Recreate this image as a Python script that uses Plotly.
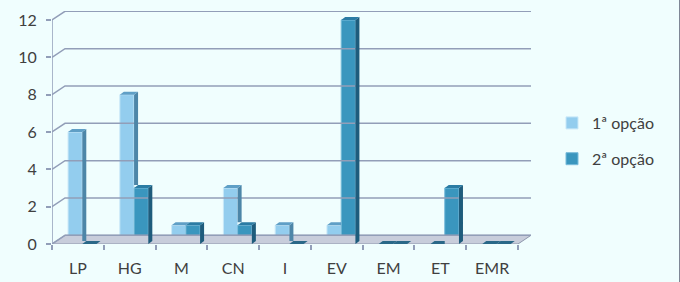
import plotly.graph_objects as go

# ---- data ----
categories = ["LP", "HG", "M", "CN", "I", "EV", "EM", "ET", "EMR"]
opcao1 = [6, 8, 1, 3, 1, 1, 0, 0, 0]
opcao2 = [0, 3, 1, 1, 0, 12, 0, 3, 0]
y_ticks = [0, 2, 4, 6, 8, 10, 12]
series_names = ["1ª opção", "2ª opção"]

# ---- geometry / style ----
PX_X = 51.78          # px per category
PX_Y = 18.667         # px per unit
W = 0.275
OFFS = [-0.19, 0.085]
DX, DY = 4 / PX_X, 3 / PX_Y          # bar depth
BDX, BDY = 13 / PX_X, 8.7 / PX_Y     # back wall offset
XMIN, XMAX = -0.5, len(categories) - 0.5
YMAX = 12

BG = "#F0FEFE"
GRID = "#929EB8"
TXT = "#404040"
FRONT = ["#93CDEE", "#3A96BE"]
EDGE = ["#C9E8F8", "#79BCDB"]
SIDE = ["#4D86A8", "#1E5C7C"]
CAP = ["#5F9FC6", "#2B7CA4"]
FONT = "Lato"

fig = go.Figure()

# floor
fx = [XMIN, XMAX, XMAX + BDX, XMIN + BDX, XMIN]
fy = [0, 0, BDY, BDY, 0]
fig.add_trace(go.Scatter(x=fx, y=fy, fill="toself", fillcolor="#C8CDDB",
                         mode="lines", line=dict(color="#8E96AC", width=1),
                         hoverinfo="skip", showlegend=False, cliponaxis=False))

# back-wall gridlines and connectors
gx, gy = [], []
for v in y_ticks:
    gx += [XMIN, XMIN + BDX, XMAX + BDX, None]
    gy += [v, v + BDY, v + BDY, None]
gx += [XMIN, XMIN, None]
gy += [0, YMAX, None]
fig.add_trace(go.Scatter(x=gx, y=gy, mode="lines",
                         line=dict(color=GRID, width=1.5),
                         hoverinfo="skip", showlegend=False, cliponaxis=False))

series = [opcao1, opcao2]
xs = list(range(len(categories)))

# front faces as bars
for s, vals in enumerate(series):
    fig.add_trace(go.Bar(x=xs, y=vals, base=0, width=W, offset=OFFS[s],
                         name=series_names[s], legendgroup=str(s),
                         marker=dict(color=FRONT[s], line=dict(color=EDGE[s], width=1))))

# sides and caps
for s, vals in enumerate(series):
    other = series[1] if s == 0 else None
    sx, sy, cx, cy, zx, zy = [], [], [], [], [], []
    for i, v in enumerate(vals):
        xl = i + OFFS[s]
        xr = xl + W
        v2 = other[i] if other is not None else 0
        bottom = v2 if other is not None else 0
        if v > 0 and v > bottom:
            sx += [xr, xr + DX, xr + DX, xr, xr, None]
            sy += [bottom + (DY if other is not None else 0), bottom + DY, v + DY, v, bottom, None]
        right = xr if (other is not None and v2 > v) else xr + DX
        px = [xl, xr, right, xl + DX, xl, None]
        py = [v, v, v + DY, v + DY, v, None]
        if v > 0:
            cx += px; cy += py
        else:
            zx += px; zy += py
    fig.add_trace(go.Scatter(x=sx, y=sy, fill="toself", fillcolor=SIDE[s], mode="none",
                             hoverinfo="skip", showlegend=False, cliponaxis=False))
    fig.add_trace(go.Scatter(x=cx, y=cy, fill="toself", fillcolor=CAP[s], mode="none",
                             hoverinfo="skip", showlegend=False, cliponaxis=False))
    fig.add_trace(go.Scatter(x=zx, y=zy, fill="toself", fillcolor="#2A6888", mode="none",
                             hoverinfo="skip", showlegend=False, cliponaxis=False))

fig.update_layout(
    width=680, height=282,
    margin=dict(l=52, r=149, t=11, b=38, autoexpand=False),
    paper_bgcolor=BG, plot_bgcolor=BG,
    barmode="overlay",
    font=dict(family=FONT, size=16, color=TXT),
    showlegend=True,
    legend=dict(x=(552 - 52) / 479, y=(244 - 141) / 233, xanchor="left", yanchor="middle",
                bgcolor="rgba(0,0,0,0)", tracegroupgap=12, traceorder="grouped",
                font=dict(family=FONT, size=16, color=TXT)),
    xaxis=dict(range=[XMIN, XMAX + BDX], tickmode="array", tickvals=xs, ticktext=categories,
               ticks="", showgrid=False, zeroline=False, showline=False,
               ticklabelstandoff=13,
               minor=dict(tickmode="array", tickvals=[XMIN + k for k in range(len(categories) + 1)],
                          ticks="outside", ticklen=5, tickcolor=GRID, tickwidth=1.5, showgrid=False)),
    yaxis=dict(range=[0, 233 / PX_Y], tickmode="array", tickvals=y_ticks,
               ticks="outside", ticklen=5, tickcolor=GRID, tickwidth=1.5,
               showgrid=False, zeroline=False, showline=False, ticklabelstandoff=6),
    shapes=[dict(type="line", xref="paper", yref="paper",
                 x0=(679.5 - 52) / 479, x1=(679.5 - 52) / 479, y0=-0.2, y1=1.1,
                 line=dict(color="#7F8796", width=1))],
)

fig.write_html("out.html", config={"displayModeBar": False},
               post_script="document.body.style.margin='0';document.body.style.padding='0';"
                           "document.documentElement.style.background='" + BG + "';")
